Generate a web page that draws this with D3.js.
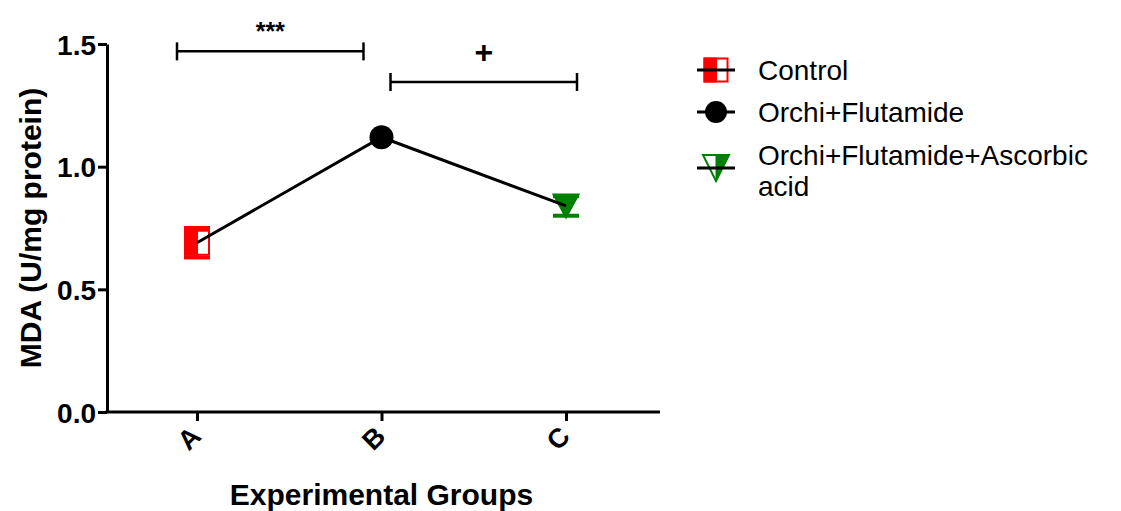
<!DOCTYPE html>
<html>
<head>
<meta charset="utf-8">
<script src="https://cdn.jsdelivr.net/npm/d3@7"></script>
<style>
  body { margin: 0; background: #fff; }
  svg { display: block; font-family: "Liberation Sans", Arial, sans-serif; }
</style>
</head>
<body>
<div id="chart"></div>
<script>
// data
const groups = ["A", "B", "C"];
const means = [0.69, 1.12, 0.84];
const sems = [0.06, 0.0, 0.04];
const seriesNames = ["Control", "Orchi+Flutamide", "Orchi+Flutamide+Ascorbic acid"];
const yTicks = [0.0, 0.5, 1.0, 1.5];
const comparisons = [
  { from: "A", to: "B", level: 1.47, label: "***" },
  { from: "B", to: "C", level: 1.345, label: "+" }
];

const width = 1121, height = 511;
const svg = d3.select("#chart").append("svg")
  .attr("width", width)
  .attr("height", height);

const x = d3.scalePoint().domain(groups).range([197, 566]);
const y = d3.scaleLinear().domain([0, 1.5]).range([412, 44]);
const axisLeft = 107, axisRight = 660;

// y axis
const yAxis = svg.append("g")
  .attr("transform", `translate(${axisLeft},0)`)
  .call(d3.axisLeft(y).tickValues(yTicks).tickFormat(d3.format(".1f")).tickSize(9).tickSizeOuter(0));
yAxis.select(".domain").attr("stroke-width", 3);
yAxis.selectAll(".tick line").attr("stroke-width", 3);
yAxis.selectAll(".tick text")
  .attr("x", -11)
  .attr("dy", "0.36em")
  .style("font-size", "28px")
  .style("font-weight", "bold")
  .attr("fill", "#000");

// x axis
const xAxis = svg.append("g")
  .attr("transform", `translate(0,${y(0)})`)
  .call(d3.axisBottom(x).tickSize(9).tickSizeOuter(0));
xAxis.select(".domain").remove();
xAxis.append("line")
  .attr("x1", axisLeft - 1.5).attr("x2", axisRight)
  .attr("stroke", "#000").attr("stroke-width", 3);
xAxis.selectAll(".tick line").attr("stroke-width", 3);
xAxis.selectAll(".tick text")
  .attr("y", 0).attr("dy", 0)
  .attr("text-anchor", "end")
  .attr("transform", "translate(5,26) rotate(-45)")
  .style("font-size", "27px")
  .style("font-weight", "bold")
  .attr("fill", "#000");

// axis titles
svg.append("text")
  .attr("transform", `translate(41,${(y(0) + y(1.5)) / 2}) rotate(-90)`)
  .attr("text-anchor", "middle")
  .style("font-size", "30px")
  .style("font-weight", "bold")
  .text("MDA (U/mg protein)");

svg.append("text")
  .attr("x", x("B"))
  .attr("y", 505)
  .attr("text-anchor", "middle")
  .style("font-size", "30px")
  .style("font-weight", "bold")
  .text("Experimental Groups");

// marker drawing helpers
const red = "#ff0000", green = "#008000";
function squareMarker(g, s) {
  g.append("rect").attr("x", -s / 2).attr("y", -s / 2).attr("width", s).attr("height", s)
    .attr("fill", "#fff").attr("stroke", red).attr("stroke-width", 2);
  g.append("rect").attr("x", -s / 2).attr("y", -s / 2).attr("width", s / 2).attr("height", s)
    .attr("fill", red).attr("stroke", red).attr("stroke-width", 2);
}
function circleMarker(g, r) {
  g.append("circle").attr("r", r).attr("fill", "#000");
}
function triangleMarker(g, w, h, half) {
  const pts = [[-w / 2, -h / 2], [w / 2, -h / 2], [0, h / 2]];
  g.append("path").attr("d", d3.line()(pts) + "Z")
    .attr("fill", half ? "#fff" : green).attr("stroke", green).attr("stroke-width", 2);
  if (half) {
    g.append("path").attr("d", d3.line()([[0, -h / 2], [w / 2, -h / 2], [0, h / 2]]) + "Z")
      .attr("fill", green).attr("stroke", green).attr("stroke-width", 1);
  }
}
const markerColors = [red, "#000", green];

// error bars
const capW = 13;
groups.forEach((gName, i) => {
  if (!sems[i]) return;
  const cx = x(gName);
  const g = svg.append("g").attr("stroke", markerColors[i]).attr("stroke-width", 4);
  g.append("line").attr("x1", cx).attr("x2", cx).attr("y1", y(means[i] - sems[i])).attr("y2", y(means[i] + sems[i]));
  [means[i] - sems[i], means[i] + sems[i]].forEach(v => {
    g.append("line").attr("x1", cx - capW).attr("x2", cx + capW).attr("y1", y(v)).attr("y2", y(v));
  });
});

// markers
groups.forEach((gName, i) => {
  const g = svg.append("g").attr("transform", `translate(${x(gName)},${y(means[i])})`);
  if (i === 0) squareMarker(g, 24);
  else if (i === 1) circleMarker(g, 12);
  else triangleMarker(g, 25, 23, false);
});

// connecting line
svg.append("path")
  .datum(groups.map((gName, i) => [x(gName), y(means[i])]))
  .attr("d", d3.line())
  .attr("fill", "none")
  .attr("stroke", "#000")
  .attr("stroke-width", 3);

// significance brackets
const bracketOffsets = [[-20, -18], [9, 11]];
const labelOffsets = [-11, -19];
comparisons.forEach((c, i) => {
  const x1 = x(c.from) + bracketOffsets[i][0];
  const x2 = x(c.to) + bracketOffsets[i][1];
  const yy = y(c.level);
  const g = svg.append("g").attr("stroke", "#000").attr("stroke-width", 2.5);
  g.append("line").attr("x1", x1).attr("x2", x2).attr("y1", yy).attr("y2", yy);
  g.append("line").attr("x1", x1).attr("x2", x1).attr("y1", yy - 9).attr("y2", yy + 9);
  g.append("line").attr("x1", x2).attr("x2", x2).attr("y1", yy - 9).attr("y2", yy + 9);
  svg.append("text")
    .attr("x", (x1 + x2) / 2)
    .attr("y", yy + labelOffsets[i])
    .attr("text-anchor", "middle")
    .style("font-size", c.label === "+" ? "32px" : "25px")
    .style("font-weight", "bold")
    .text(c.label);
});

// legend
const legend = svg.append("g").attr("transform", "translate(716,0)");
const legendRows = [70, 112, 168];
seriesNames.forEach((name, i) => {
  const g = legend.append("g").attr("transform", `translate(0,${legendRows[i]})`);
  if (i === 0) squareMarker(g, 23);
  else if (i === 1) circleMarker(g, 11);
  else triangleMarker(g, 26, 26, true);
  g.append("line").attr("x1", -19).attr("x2", 19).attr("stroke", "#000").attr("stroke-width", 3);
  const t = g.append("text")
    .attr("x", 42)
    .style("font-size", "28px")
    .attr("fill", "#000");
  if (i === 2) {
    t.append("tspan").attr("x", 42).attr("y", -3).text("Orchi+Flutamide+Ascorbic");
    t.append("tspan").attr("x", 42).attr("y", 28).text("acid");
  } else {
    t.attr("y", 10).text(name);
  }
});
</script>
</body>
</html>
